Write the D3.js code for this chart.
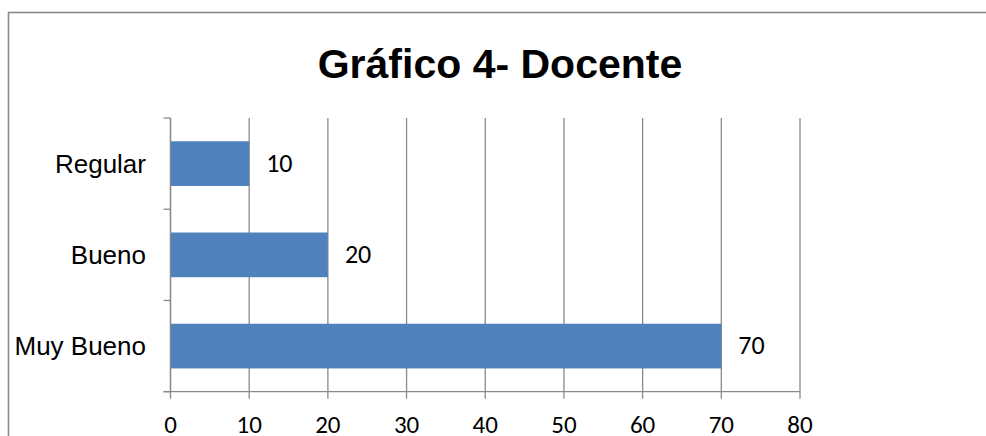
<!DOCTYPE html>
<html>
<head>
<meta charset="utf-8">
<script src="https://cdn.jsdelivr.net/npm/d3@7"></script>
<style>
  body { margin: 0; background: #fff; }
  svg { display: block; }
</style>
</head>
<body>
<svg width="986" height="436"></svg>
<script>
var categories = ["Regular", "Bueno", "Muy Bueno"];
var values = [10, 20, 70];
var xTicks = [0, 10, 20, 30, 40, 50, 60, 70, 80];
var title = "Gráfico 4- Docente";

var svg = d3.select("svg");
var grid = "#8a8a8a";

// chart frame, cut off by the picture on right and bottom
svg.append("rect")
  .attr("x", 8.5).attr("y", 12.5)
  .attr("width", 1100).attr("height", 600)
  .attr("fill", "none").attr("stroke", grid).attr("stroke-width", 1.6);

svg.append("text")
  .attr("x", 500).attr("y", 78)
  .attr("text-anchor", "middle")
  .style("font-family", "'Liberation Sans', Arial, sans-serif")
  .style("font-weight", "bold").style("font-size", "41px")
  .text(title);

var x = d3.scaleLinear().domain([0, 80]).range([170.5, 800]);
var y = d3.scaleBand().domain(categories).range([118, 391.7])
  .paddingInner(0.51).paddingOuter(0.255);

var plotTop = y.range()[0], plotBottom = y.range()[1];

// vertical gridlines + x ticks
svg.append("g").selectAll("line")
  .data(xTicks).enter().append("line")
  .attr("x1", function(d){ return x(d); }).attr("x2", function(d){ return x(d); })
  .attr("y1", plotTop).attr("y2", plotBottom + 7)
  .attr("stroke", grid).attr("stroke-width", 1.3);

// x axis line
svg.append("line")
  .attr("x1", x(0) - 7).attr("x2", x(80))
  .attr("y1", plotBottom).attr("y2", plotBottom)
  .attr("stroke", grid).attr("stroke-width", 1.3);

// y axis ticks at band boundaries
var bounds = d3.range(categories.length + 1).map(function(i){ return plotTop + i * y.step(); });
svg.append("g").selectAll("line")
  .data(bounds).enter().append("line")
  .attr("x1", x(0) - 7).attr("x2", x(0))
  .attr("y1", function(d){ return d; }).attr("y2", function(d){ return d; })
  .attr("stroke", grid).attr("stroke-width", 1.3);

// bars
svg.append("g").selectAll("rect")
  .data(values).enter().append("rect")
  .attr("x", x(0))
  .attr("y", function(d, i){ return y(categories[i]); })
  .attr("width", function(d){ return x(d) - x(0); })
  .attr("height", y.bandwidth())
  .attr("fill", "#4f81bd");

// y axis line drawn on top of bars
svg.append("line")
  .attr("x1", x(0)).attr("x2", x(0))
  .attr("y1", plotTop).attr("y2", plotBottom)
  .attr("stroke", grid).attr("stroke-width", 1.3);

// data labels
svg.append("g").selectAll("text")
  .data(values).enter().append("text")
  .attr("x", function(d){ return x(d) + 17; })
  .attr("y", function(d, i){ return y(categories[i]) + y.bandwidth() / 2; })
  .attr("dy", "0.32em")
  .style("font-family", "Carlito, Lato, 'Open Sans', sans-serif").style("font-size", "26px")
  .text(function(d){ return d; });

// category labels
svg.append("g").selectAll("text")
  .data(categories).enter().append("text")
  .attr("x", 146)
  .attr("y", function(d){ return y(d) + y.bandwidth() / 2; })
  .attr("dy", "0.35em")
  .attr("text-anchor", "end")
  .style("font-family", "'Liberation Sans', Arial, sans-serif").style("font-size", "26px")
  .text(function(d){ return d; });

// x tick labels
svg.append("g").selectAll("text")
  .data(xTicks).enter().append("text")
  .attr("x", function(d){ return x(d); })
  .attr("y", 433)
  .attr("text-anchor", "middle")
  .style("font-family", "Carlito, Lato, 'Open Sans', sans-serif").style("font-size", "25px")
  .text(function(d){ return d; });
</script>
</body>
</html>
